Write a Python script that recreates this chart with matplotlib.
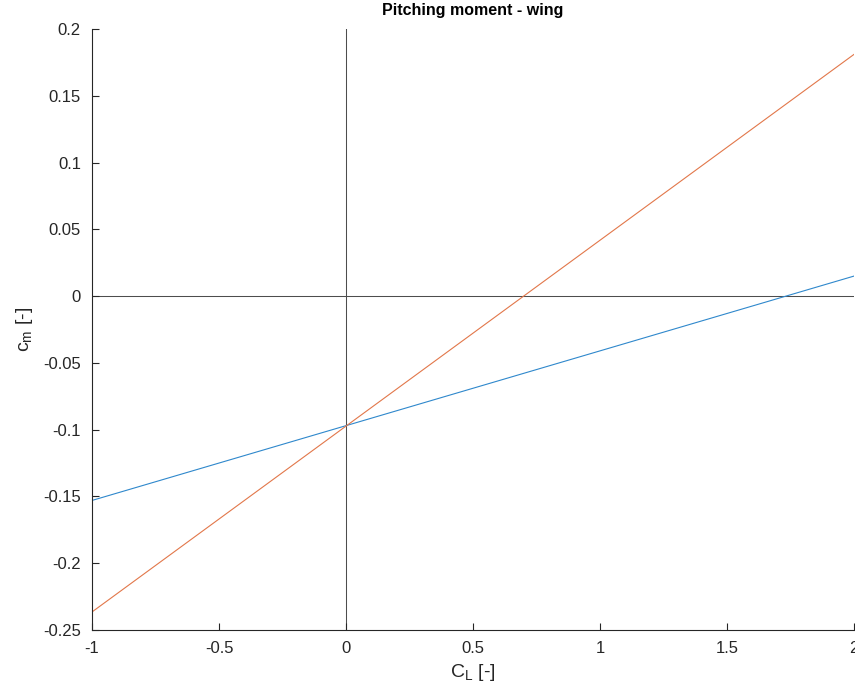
import matplotlib
matplotlib.use("Agg")
import matplotlib.pyplot as plt
import numpy as np

plt.rcParams['font.family'] = ['Liberation Sans', 'DejaVu Sans']
plt.rcParams['mathtext.fontset'] = 'custom'
plt.rcParams['mathtext.rm'] = 'Liberation Sans'
plt.rcParams['mathtext.it'] = 'Liberation Sans'

# Lift coefficient range and the two pitching moment curves
CL = [-1.0, 2.0]
cm_blue = [-0.153, 0.015]
cm_orange = [-0.2365, 0.181]

x_ticks = [-1, -0.5, 0, 0.5, 1, 1.5, 2]
x_tick_labels = ['-1', '-0.5', '0', '0.5', '1', '1.5', '2']
y_ticks = [-0.25, -0.2, -0.15, -0.1, -0.05, 0, 0.05, 0.1, 0.15, 0.2]
y_tick_labels = ['-0.25', '-0.2', '-0.15', '-0.1', '-0.05', '0', '0.05', '0.1', '0.15', '0.2']

fig = plt.figure(figsize=(8.55, 6.92), dpi=100)
ax = fig.add_axes([92/855, 62/692, 762/855, 601/692])

ax.axhline(0, color='#4d4d4d', lw=0.75, zorder=1)
ax.axvline(0, color='#4d4d4d', lw=0.75, zorder=1)
ax.plot(CL, cm_blue, color='#2f88cc', lw=0.8, zorder=2)
ax.plot(CL, cm_orange, color='#e2774a', lw=0.8, zorder=2)

ax.set_xlim(-1, 2)
ax.set_ylim(-0.25, 0.2)
ax.set_xticks(x_ticks)
ax.set_xticklabels(x_tick_labels)
ax.set_yticks(y_ticks)
ax.set_yticklabels(y_tick_labels)

for s in ['top', 'right']:
    ax.spines[s].set_visible(False)
for s in ['left', 'bottom']:
    ax.spines[s].set_color('#262626')
    ax.spines[s].set_linewidth(0.8)

ax.tick_params(direction='in', length=5, width=0.8, colors='#262626',
               labelsize=12, pad=8)
for lbl in ax.get_xticklabels() + ax.get_yticklabels():
    lbl.set_color('#262626')

ax.set_xlabel(r'C$_\mathregular{L}$ [-]', fontsize=14, color='#262626', labelpad=4)
ax.set_ylabel(r'c$_\mathregular{m}$ [-]', fontsize=14, color='#262626', labelpad=6)
ax.set_title('Pitching moment - wing', fontsize=11.5, fontweight='bold',
             color='black', pad=10)

fig.savefig('out.png', dpi=100)
